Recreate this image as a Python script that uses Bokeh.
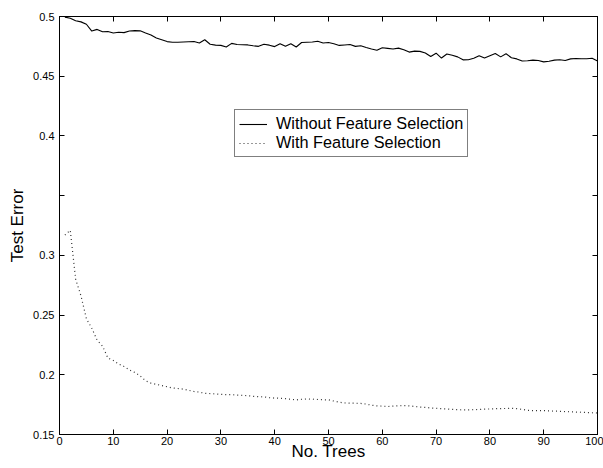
from bokeh.plotting import figure
from bokeh.models import (LinearAxis, FixedTicker, CustomJSTickFormatter, Legend,
                          LegendItem, Range1d)
from bokeh.embed import file_html
from bokeh.resources import INLINE

# ---- data ----
n_trees = list(range(1, 101))

without_fs = [
    0.4995, 0.4985, 0.4965, 0.4955, 0.4935, 0.4878, 0.4892, 0.4872, 0.4875, 0.4862,
    0.4868, 0.4865, 0.4878, 0.4882, 0.4880, 0.4862, 0.4845, 0.4820, 0.4805, 0.4790,
    0.4785, 0.4784, 0.4786, 0.4788, 0.4790, 0.4778, 0.4805, 0.4768, 0.4760, 0.4758,
    0.4745, 0.4775, 0.4765, 0.4763, 0.4762, 0.4755, 0.4750, 0.4768, 0.4760, 0.4748,
    0.4772, 0.4750, 0.4772, 0.4745, 0.4782, 0.4784, 0.4786, 0.4793, 0.4778, 0.4782,
    0.4772, 0.4758, 0.4762, 0.4765, 0.4750, 0.4755, 0.4740, 0.4728, 0.4718, 0.4738,
    0.4733, 0.4728, 0.4735, 0.4722, 0.4702, 0.4710, 0.4708, 0.4695, 0.4665, 0.4693,
    0.4652, 0.4686, 0.4675, 0.4662, 0.4637, 0.4638, 0.4650, 0.4672, 0.4652, 0.4672,
    0.4690, 0.4662, 0.4688, 0.4655, 0.4645, 0.4628, 0.4630, 0.4635, 0.4632, 0.4620,
    0.4625, 0.4635, 0.4638, 0.4632, 0.4645, 0.4648, 0.4646, 0.4646, 0.4650, 0.4628,
]

with_fs = [
    0.317, 0.321, 0.280, 0.266, 0.247, 0.239, 0.229, 0.224, 0.214, 0.212,
    0.209, 0.207, 0.204, 0.202, 0.199, 0.195, 0.193, 0.192, 0.191, 0.190,
    0.189, 0.1885, 0.188, 0.187, 0.186, 0.1855, 0.1845, 0.1843, 0.184, 0.1836,
    0.1834, 0.1834, 0.183, 0.1828, 0.1825, 0.182, 0.1817, 0.1815, 0.1808, 0.1805,
    0.1803, 0.180, 0.1795, 0.179, 0.1795, 0.1798, 0.1796, 0.1793, 0.1791, 0.179,
    0.178, 0.177, 0.1764, 0.1762, 0.1762, 0.176, 0.1755, 0.1745, 0.174, 0.1738,
    0.1734, 0.1738, 0.174, 0.1742, 0.174, 0.1735, 0.173, 0.1727, 0.1722, 0.172,
    0.1716, 0.1714, 0.171, 0.1708, 0.1706, 0.1706, 0.1708, 0.171, 0.1712, 0.1714,
    0.1716, 0.1717, 0.1718, 0.1719, 0.1716, 0.171, 0.1703, 0.170, 0.170, 0.170,
    0.1698, 0.1696, 0.1694, 0.1692, 0.169, 0.1688, 0.1686, 0.1684, 0.1682, 0.168,
]

x_ticks = [0, 10, 20, 30, 40, 50, 60, 70, 80, 90, 100]
y_ticks = [0.15, 0.2, 0.25, 0.3, 0.35, 0.4, 0.45, 0.5]
y_tick_labels = ["0.15", "0.2", "0.25", "0.3", "", "0.4", "0.45", "0.5"]
series_labels = ["Without Feature Selection", "With Feature Selection"]

FONT = "Liberation Sans"

p = figure(frame_width=538, frame_height=418, output_backend="svg", toolbar_location=None,
           x_range=Range1d(0, 100), y_range=Range1d(0.15, 0.5),
           min_border_left=59, min_border_right=6, min_border_top=16,
           min_border_bottom=34, x_axis_label="No. Trees", y_axis_label="Test Error")

p.xgrid.visible = False
p.ygrid.visible = False
p.outline_line_color = "black"
p.outline_line_width = 1
p.background_fill_color = "white"
p.border_fill_color = "white"

xfmt = CustomJSTickFormatter(code="return tick.toString();")
yfmt = CustomJSTickFormatter(args=dict(tvals=y_ticks, tlabs=y_tick_labels), code="""
    for (let i = 0; i < tvals.length; i++) {
        if (Math.abs(tvals[i] - tick) < 1e-9) { return tlabs[i]; }
    }
    return tick.toString();
""")
blank = CustomJSTickFormatter(code="return '';")

for ax in p.xaxis + p.yaxis:
    ax.axis_line_color = "black"
    ax.major_tick_in = 5
    ax.major_tick_out = 0
    ax.minor_tick_line_color = None
    ax.major_label_text_font = FONT
    ax.major_label_text_font_size = "11px"
    ax.major_label_text_color = "black"
    ax.axis_label_text_font = FONT
    ax.axis_label_text_font_size = "17px"
    ax.axis_label_text_font_style = "normal"
    ax.axis_label_text_color = "black"

p.xaxis.formatter = xfmt
p.yaxis.formatter = yfmt
p.xaxis.ticker = FixedTicker(ticks=x_ticks)
p.yaxis.ticker = FixedTicker(ticks=y_ticks)
p.xaxis.major_label_standoff = 2
p.xaxis.axis_label_standoff = -6
p.yaxis.major_label_standoff = 5
p.yaxis.axis_label_standoff = 3

top = LinearAxis(ticker=FixedTicker(ticks=x_ticks), formatter=blank,
                 major_tick_in=5, major_tick_out=0, minor_tick_line_color=None,
                 major_label_text_font_size="0px", axis_line_color="black",
                 major_label_standoff=0)
right = LinearAxis(ticker=FixedTicker(ticks=y_ticks), formatter=blank,
                   major_tick_in=5, major_tick_out=0, minor_tick_line_color=None,
                   major_label_text_font_size="0px", axis_line_color="black",
                   major_label_standoff=0)
p.add_layout(top, "above")
p.add_layout(right, "right")

r1 = p.line(n_trees, without_fs, line_color="black", line_width=1.1)
r2 = p.line(n_trees, with_fs, line_color="#333333", line_width=1.2, line_dash="1 3")

legend = Legend(items=[LegendItem(label=series_labels[0], renderers=[r1]),
                       LegendItem(label=series_labels[1], renderers=[r2])],
                location=(175, 277), orientation="vertical",
                label_text_font=FONT, label_text_font_size="16.3px",
                label_text_color="black", glyph_width=28, glyph_height=16,
                label_height=16, spacing=-1, padding=4, margin=0,
                border_line_color="black", border_line_width=1,
                background_fill_alpha=1.0, label_standoff=9)
p.add_layout(legend, "center")

open("out.html", "w").write(file_html(p, INLINE))
